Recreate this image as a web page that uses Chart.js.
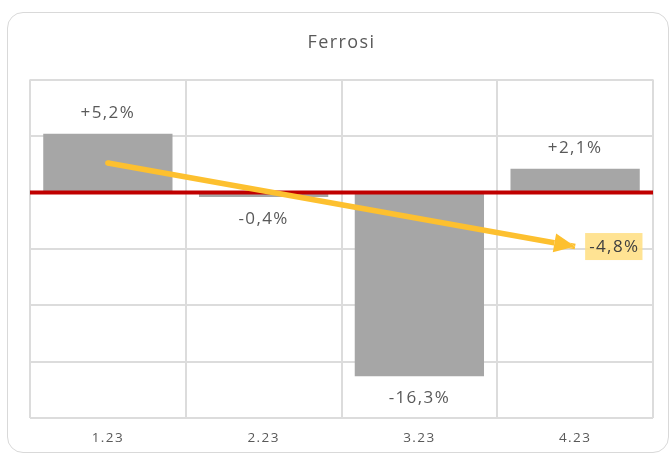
<!DOCTYPE html>
<html>
<head>
<meta charset="utf-8">
<script src="https://cdn.jsdelivr.net/npm/chart.js@4"></script>
<style>
  html, body { margin: 0; padding: 0; background: #fff; }
  #wrap { position: relative; width: 669px; height: 455px; overflow: hidden; }
  #card { position: absolute; left: 7px; top: 12px; width: 662px; height: 441px;
          border: 1.5px solid #d9d9d9; border-radius: 16px; box-sizing: border-box; }
  canvas { position: absolute; left: 0; top: 0; }
</style>
</head>
<body>
<div id="wrap">
  <div id="card"></div>
  <canvas id="c" width="669" height="455"></canvas>
</div>
<script>
// Monthly change, Ferrosi
const periods = ['1.23', '2.23', '3.23', '4.23'];
const changes = [5.2, -0.4, -16.3, 2.1];
// Trend arrow: from the first period to the last
const trendValues = [2.6, null, null, -4.8];
// Value axis range
const axisMin = -20;
const axisMax = 10;
const axisStep = 5;

const FONT = '"Open Sans", sans-serif';
const TEXT = '#595959';
const ARROW = '#fdc02f';
const SPACING = '1.4px';

const fmt = v => (v > 0 ? '+' : '') + v.toFixed(1).replace('.', ',') + '%';

function arrowHead(tip, from) {
  const ang = Math.atan2(tip.y - from.y, tip.x - from.x);
  const len = 21, half = 9.5;
  const bx = tip.x - Math.cos(ang) * len, by = tip.y - Math.sin(ang) * len;
  const nx = -Math.sin(ang) * half, ny = Math.cos(ang) * half;
  return [[tip.x, tip.y], [bx + nx, by + ny], [bx - nx, by - ny]];
}

const plugins = [{
  id: 'spacing',
  beforeDraw(chart) { chart.ctx.letterSpacing = SPACING; }
}, {
  id: 'zeroLine',
  afterDatasetDraw(chart, args) {
    if (args.index !== 0) return;
    const { ctx, chartArea: a, scales: { y } } = chart;
    const yy = y.getPixelForValue(0);
    ctx.save();
    ctx.strokeStyle = '#c00000';
    ctx.lineWidth = 4;
    ctx.beginPath();
    ctx.moveTo(a.left, yy);
    ctx.lineTo(a.right, yy);
    ctx.stroke();
    ctx.restore();
  }
}, {
  id: 'trendArrow',
  beforeDatasetDraw(chart, args) {
    if (args.index !== 1) return;
    const pts = args.meta.data.filter((p, i) => trendValues[i] !== null);
    const head = arrowHead(pts[pts.length - 1], pts[0]);
    const ctx = chart.ctx;
    ctx.save();
    ctx.beginPath();
    ctx.rect(0, 0, chart.width, chart.height);
    ctx.moveTo(head[0][0], head[0][1]);
    ctx.lineTo(head[1][0], head[1][1]);
    ctx.lineTo(head[2][0], head[2][1]);
    ctx.closePath();
    ctx.clip('evenodd');
  },
  afterDatasetDraw(chart, args) {
    if (args.index !== 1) return;
    const ctx = chart.ctx;
    ctx.restore();
    const pts = args.meta.data.filter((p, i) => trendValues[i] !== null);
    const start = pts[0], end = pts[pts.length - 1];
    const head = arrowHead(end, start);
    ctx.save();
    ctx.fillStyle = ARROW;
    ctx.beginPath();
    ctx.arc(start.x, start.y, 2.75, 0, Math.PI * 2);
    ctx.fill();
    ctx.beginPath();
    ctx.moveTo(head[0][0], head[0][1]);
    ctx.lineTo(head[1][0], head[1][1]);
    ctx.lineTo(head[2][0], head[2][1]);
    ctx.closePath();
    ctx.fill();

    // end value tag
    const last = trendValues[trendValues.length - 1];
    const txt = fmt(last);
    ctx.font = '17px ' + FONT;
    ctx.letterSpacing = SPACING;
    const w = ctx.measureText(txt).width + 7;
    const h = 27;
    const bx = end.x + 10;
    ctx.fillStyle = 'rgba(255, 222, 128, 0.85)';
    ctx.fillRect(bx, end.y - h / 2, w, h);
    ctx.fillStyle = '#404040';
    ctx.textAlign = 'center';
    ctx.textBaseline = 'middle';
    ctx.fillText(txt, bx + w / 2 + 0.5, end.y + 1);
    ctx.restore();
  }
}, {
  id: 'barLabels',
  afterDatasetsDraw(chart) {
    const ctx = chart.ctx;
    const meta = chart.getDatasetMeta(0);
    ctx.save();
    ctx.font = '17px ' + FONT;
    ctx.letterSpacing = SPACING;
    ctx.fillStyle = TEXT;
    ctx.textAlign = 'center';
    ctx.textBaseline = 'middle';
    meta.data.forEach((bar, i) => {
      const v = changes[i];
      const y = v >= 0 ? bar.y - 21 : bar.y + 22;
      ctx.fillText(fmt(v), bar.x, y);
    });
    ctx.restore();
  }
}];

new Chart(document.getElementById('c'), {
  data: {
    labels: periods,
    datasets: [{
      type: 'bar',
      data: changes,
      backgroundColor: '#a6a6a6',
      borderWidth: 0,
      barPercentage: 0.83,
      categoryPercentage: 1,
      order: 1
    }, {
      type: 'line',
      data: trendValues,
      spanGaps: true,
      borderColor: ARROW,
      borderWidth: 5.5,
      borderCapStyle: 'butt',
      pointRadius: 0,
      fill: false,
      order: 0
    }]
  },
  options: {
    responsive: false,
    devicePixelRatio: 1,
    animation: false,
    layout: { padding: { left: 30, right: 16, top: 0, bottom: 9 } },
    plugins: {
      legend: { display: false },
      tooltip: { enabled: false },
      title: {
        display: true,
        text: 'Ferrosi',
        color: TEXT,
        font: { family: FONT, size: 18, weight: 'normal' },
        padding: { top: 32, bottom: 26 }
      }
    },
    scales: {
      x: {
        grid: { color: '#dcdcdc', lineWidth: 2, drawTicks: false, offset: true },
        border: { display: false },
        ticks: { color: TEXT, font: { family: FONT, size: 13.5 }, padding: 12 },
        afterFit(s) { s.height = 28; }
      },
      y: {
        min: axisMin,
        max: axisMax,
        ticks: { stepSize: axisStep, display: false },
        grid: { color: '#dcdcdc', lineWidth: 2, drawTicks: false },
        border: { display: false },
        afterFit(s) { s.width = 0; }
      }
    }
  },
  plugins
});
</script>
</body>
</html>
